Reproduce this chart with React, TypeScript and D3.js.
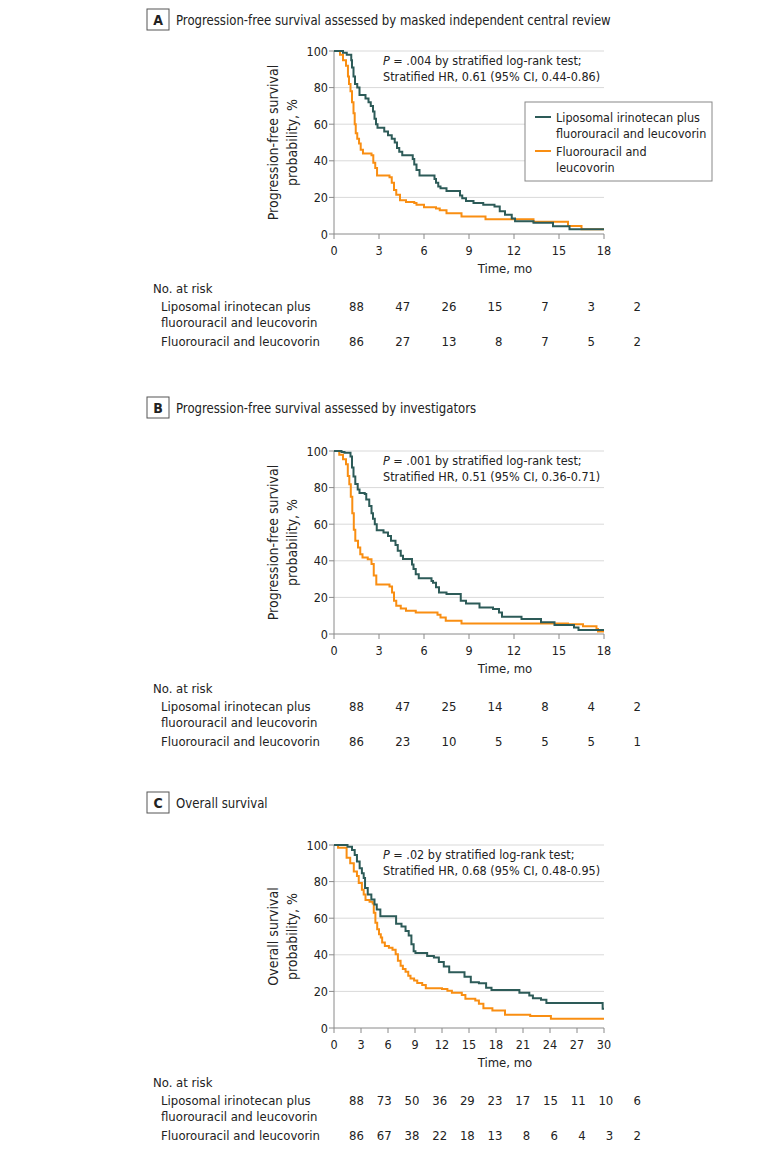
import * as d3 from "d3";
import React from "react";

const FONT = "'Liberation Sans Narrow', 'DejaVu Sans Condensed', 'Roboto Condensed', Roboto, sans-serif";
const TEAL = "#2d5b58";
const ORANGE = "#f98e12";
const GRID = "#d9d9d9";
const AXIS = "#8a8a8a";
const INK = "#222";

type Pt = [number, number];

// Panel A: PFS by masked independent central review
const pfsCentralLipo: Pt[] = [
  [0, 100], [0.6, 99], [0.85, 98], [1.15, 95], [1.2, 91], [1.3, 86], [1.4, 82], [1.55, 80], [1.7, 76],
  [2.1, 74], [2.3, 72], [2.45, 70], [2.6, 67], [2.7, 63], [2.8, 60], [2.9, 58], [3.35, 56], [3.6, 54],
  [3.85, 52], [4.05, 50], [4.2, 47], [4.35, 45], [4.55, 43], [5.25, 41], [5.35, 38], [5.5, 35], [5.7, 32],
  [6.7, 30], [6.8, 28], [6.95, 26], [7.1, 25], [7.5, 23.5], [8.4, 21], [8.55, 19.5], [8.8, 18], [9.3, 17],
  [9.95, 16], [10.7, 15], [11.05, 12.5], [11.4, 10.5], [11.85, 8.5], [12.07, 7], [13.3, 6.2], [14.6, 4.2],
  [15.7, 2.6], [18, 2.6],
];
const pfsCentralFu: Pt[] = [
  [0, 100], [0.4, 98], [0.6, 95], [0.8, 92], [0.93, 86], [1.0, 82], [1.1, 78], [1.2, 72], [1.3, 66],
  [1.38, 60], [1.45, 55], [1.55, 52], [1.67, 49.5], [1.78, 46], [1.93, 44], [2.5, 43], [2.62, 39],
  [2.75, 36], [2.87, 32], [3.7, 31], [3.85, 28], [4.0, 24], [4.15, 21.5], [4.4, 18.5], [4.8, 17.5],
  [5.35, 17], [5.5, 16], [6.0, 14.6], [6.8, 14], [7.05, 13], [7.5, 11.3], [8.5, 9.5], [10.1, 8],
  [13.3, 6.7], [15.6, 4.4], [16.5, 2.6], [18, 2.6],
];

// Panel B: PFS by investigators
const pfsInvLipo: Pt[] = [
  [0, 100], [0.5, 99.5], [0.7, 99], [1.1, 97], [1.2, 91], [1.3, 86], [1.42, 82], [1.58, 79], [1.7, 77],
  [2.05, 76.5], [2.15, 73.5], [2.35, 70], [2.5, 66], [2.6, 63], [2.72, 60], [2.85, 56.7], [3.3, 55.5],
  [3.6, 53.6], [3.8, 51], [4.1, 48.7], [4.25, 45.5], [4.45, 42.7], [4.6, 41], [5.2, 38], [5.3, 35.5],
  [5.45, 32.7], [5.65, 30.4], [6.5, 29], [6.6, 28], [6.8, 25.5], [7.0, 22.7], [7.5, 21.8], [8.45, 18.2],
  [8.8, 16.7], [9.7, 14.5], [10.6, 13.6], [11.0, 11.8], [11.2, 9.4], [12.5, 8.2], [13.8, 6.4], [14.7, 4.9],
  [16.0, 3.6], [16.3, 2.2], [18, 2.2],
];
const pfsInvFu: Pt[] = [
  [0, 100], [0.35, 98], [0.6, 95.5], [0.8, 92.7], [0.92, 86.4], [1.02, 81.8], [1.12, 75], [1.22, 66],
  [1.32, 57], [1.42, 51], [1.6, 47.3], [1.75, 43.6], [1.9, 41.8], [2.25, 40.9], [2.5, 38.2], [2.65, 32],
  [2.82, 27], [3.7, 26], [3.87, 22.7], [4.0, 18.2], [4.15, 15.5], [4.45, 14], [4.8, 12.7], [5.45, 11.8],
  [6.9, 10.5], [7.1, 9], [7.45, 7.3], [8.5, 5.8], [15.6, 5.3], [16.6, 4.3], [17.5, 2.7], [17.6, 1.4],
  [18, 1.4],
];

// Panel C: overall survival
const osLipo: Pt[] = [
  [0, 100], [1.5, 99], [2.0, 97.3], [2.3, 94.6], [2.55, 91], [2.85, 87.3], [3.1, 84.6], [3.3, 82],
  [3.45, 76.5], [3.75, 73], [4.15, 70.2], [4.5, 67.5], [4.75, 64.7], [5.15, 61], [6.9, 57], [7.5, 55.5],
  [7.95, 53], [8.3, 50.6], [8.6, 45.8], [8.85, 42], [9.05, 41], [10.35, 39.4], [11.1, 38.5], [11.65, 36],
  [12.2, 33.6], [12.8, 30.4], [14.5, 28], [15.2, 25], [16.1, 24.5], [16.9, 22], [17.5, 20.8], [20.6, 19.2],
  [21.7, 17.7], [22.1, 16.3], [23.0, 15.4], [23.6, 13.7], [29.85, 10.5], [30, 10.5],
];
const osFu: Pt[] = [
  [0, 100], [0.45, 98.5], [1.4, 93], [1.8, 90], [2.2, 85.5], [2.55, 83], [2.75, 79.2], [3.1, 75.6],
  [3.3, 73], [3.5, 70], [3.95, 69], [4.3, 68], [4.42, 63], [4.6, 57.5], [4.8, 54], [5.0, 51.2], [5.2, 49.4],
  [5.35, 46.7], [5.65, 44.8], [6.1, 43.9], [6.5, 42.7], [6.85, 40.3], [7.1, 36.7], [7.4, 34], [7.65, 32.2],
  [7.95, 30.7], [8.25, 28.6], [8.5, 27.1], [8.9, 25.9], [9.25, 24.6], [9.8, 23.5], [10.2, 21.7],
  [12.0, 21.3], [12.6, 20.3], [13.1, 19.2], [14.2, 18.1], [14.6, 16], [15.7, 15], [16.1, 13.2],
  [16.6, 10.8], [17.6, 9.6], [19.0, 7.2], [21.8, 6.5], [24.1, 5.0], [30, 5.0],
];

// Numbers at risk
const riskPfsCentralLipo = [88, 47, 26, 15, 7, 3, 2];
const riskPfsCentralFu = [86, 27, 13, 8, 7, 5, 2];
const riskPfsInvLipo = [88, 47, 25, 14, 8, 4, 2];
const riskPfsInvFu = [86, 23, 10, 5, 5, 5, 1];
const riskOsLipo = [88, 73, 50, 36, 29, 23, 17, 15, 11, 10, 6];
const riskOsFu = [86, 67, 38, 22, 18, 13, 8, 6, 4, 3, 2];

const armLabels = ["Liposomal irinotecan plus", "fluorouracil and leucovorin", "Fluorouracil and leucovorin"];

interface PanelProps {
  letter: string;
  title: string;
  headerY: number;
  top: number;
  yTitle: string[];
  xMax: number;
  lipo: Pt[];
  fu: Pt[];
  stats: [string, string];
  riskLipo: number[];
  riskFu: number[];
  legend?: boolean;
}

const X0 = 334;
const X1 = 604;
const PLOT_H = 183;

const Panel: React.FC<PanelProps> = (p) => {
  const bottom = p.top + PLOT_H;
  const x = d3.scaleLinear().domain([0, p.xMax]).range([X0, X1]);
  const y = d3.scaleLinear().domain([0, 100]).range([bottom, p.top]);
  const xTicks = d3.range(0, p.xMax + 1, 3);
  const yTicks = [0, 20, 40, 60, 80, 100];
  const line = d3
    .line<Pt>()
    .x((d) => x(d[0]))
    .y((d) => y(d[1]))
    .curve(d3.curveStepAfter);

  // at-risk columns are spread evenly, right-aligned
  const riskX = d3
    .scaleLinear()
    .domain([0, p.riskLipo.length - 1])
    .range([364, 641]);
  const riskTop = bottom + 54;

  return (
    <g fontFamily={FONT} fill={INK}>
      {/* header */}
      <rect x={147} y={p.headerY - 11} width={22} height={21} fill="none" stroke="#555" strokeWidth={1} />
      <text x={158} y={p.headerY} textAnchor="middle" dominantBaseline="central" fontSize={14} fontWeight="bold">
        {p.letter}
      </text>
      <text
        transform={`translate(176,${p.headerY}) scale(0.9,1)`}
        dominantBaseline="central"
        fontSize={14.5}
      >
        {p.title}
      </text>

      {/* grid */}
      {yTicks.filter((t) => t > 0).map((t) => (
        <line key={t} x1={X0} x2={X1} y1={y(t)} y2={y(t)} stroke={GRID} strokeWidth={1} />
      ))}

      {/* axes */}
      <line x1={X0} x2={X0} y1={p.top} y2={bottom} stroke={AXIS} />
      <line x1={X0} x2={X1} y1={bottom} y2={bottom} stroke={AXIS} />
      {yTicks.map((t) => (
        <g key={t}>
          <line x1={X0 - 5} x2={X0} y1={y(t)} y2={y(t)} stroke={AXIS} />
          <text x={X0 - 6} y={y(t)} textAnchor="end" dominantBaseline="central" fontSize={12.5}>
            {t}
          </text>
        </g>
      ))}
      {xTicks.map((t) => (
        <g key={t}>
          <line x1={x(t)} x2={x(t)} y1={bottom} y2={bottom + 5} stroke={AXIS} />
          <text x={x(t)} y={bottom + 16} textAnchor="middle" dominantBaseline="central" fontSize={12.5}>
            {t}
          </text>
        </g>
      ))}
      <text x={505} y={bottom + 34} textAnchor="middle" dominantBaseline="central" fontSize={13}>
        Time, mo
      </text>
      <g transform={`translate(${273},${(p.top + bottom) / 2}) rotate(-90)`}>
        {p.yTitle.map((s, i) => (
          <text key={i} x={0} y={i * 19} textAnchor="middle" dominantBaseline="central" fontSize={14}>
            {s}
          </text>
        ))}
      </g>

      {/* curves */}
      <path d={line(p.fu) ?? ""} fill="none" stroke={ORANGE} strokeWidth={2} />
      <path d={line(p.lipo) ?? ""} fill="none" stroke={TEAL} strokeWidth={2} />

      {/* stats */}
      <text x={383} y={p.top + 14} fontSize={12.5}>
        <tspan fontStyle="italic">P</tspan>
        {p.stats[0]}
      </text>
      <text x={383} y={p.top + 30} fontSize={12.5}>
        {p.stats[1]}
      </text>

      {p.legend && (
        <g fontSize={12.5}>
          <rect x={525} y={102} width={187} height={79} fill="#fff" stroke="#888" />
          <line x1={535} x2={551} y1={117} y2={117} stroke={TEAL} strokeWidth={2} />
          <text x={556} y={117} dominantBaseline="central">Liposomal irinotecan plus</text>
          <text x={556} y={133} dominantBaseline="central">fluorouracil and leucovorin</text>
          <line x1={535} x2={551} y1={151} y2={151} stroke={ORANGE} strokeWidth={2} />
          <text x={556} y={151} dominantBaseline="central">Fluorouracil and</text>
          <text x={556} y={167} dominantBaseline="central">leucovorin</text>
        </g>
      )}

      {/* number at risk */}
      <g fontSize={13}>
        <text x={153} y={riskTop} dominantBaseline="central">No. at risk</text>
        <text x={161} y={riskTop + 18} dominantBaseline="central">{armLabels[0]}</text>
        <text x={161} y={riskTop + 34} dominantBaseline="central">{armLabels[1]}</text>
        <text x={161} y={riskTop + 53} dominantBaseline="central">{armLabels[2]}</text>
        {p.riskLipo.map((v, i) => (
          <text key={`l${i}`} x={riskX(i)} y={riskTop + 18} textAnchor="end" dominantBaseline="central">{v}</text>
        ))}
        {p.riskFu.map((v, i) => (
          <text key={`f${i}`} x={riskX(i)} y={riskTop + 53} textAnchor="end" dominantBaseline="central">{v}</text>
        ))}
      </g>
    </g>
  );
};

export default function App() {
  return (
    <svg width={780} height={1153} style={{ display: "block", position: "absolute", left: 0, top: 0 }}>
      <rect width={780} height={1153} fill="#fff" />
      <Panel
        letter="A"
        title="Progression-free survival assessed by masked independent central review"
        headerY={20}
        top={51}
        yTitle={["Progression-free survival", "probability, %"]}
        xMax={18}
        lipo={pfsCentralLipo}
        fu={pfsCentralFu}
        stats={[" = .004 by stratified log-rank test;", "Stratified HR, 0.61 (95% CI, 0.44-0.86)"]}
        riskLipo={riskPfsCentralLipo}
        riskFu={riskPfsCentralFu}
        legend
      />
      <Panel
        letter="B"
        title="Progression-free survival assessed by investigators"
        headerY={408}
        top={451}
        yTitle={["Progression-free survival", "probability, %"]}
        xMax={18}
        lipo={pfsInvLipo}
        fu={pfsInvFu}
        stats={[" = .001 by stratified log-rank test;", "Stratified HR, 0.51 (95% CI, 0.36-0.71)"]}
        riskLipo={riskPfsInvLipo}
        riskFu={riskPfsInvFu}
      />
      <Panel
        letter="C"
        title="Overall survival"
        headerY={803}
        top={845}
        yTitle={["Overall survival", "probability, %"]}
        xMax={30}
        lipo={osLipo}
        fu={osFu}
        stats={[" = .02 by stratified log-rank test;", "Stratified HR, 0.68 (95% CI, 0.48-0.95)"]}
        riskLipo={riskOsLipo}
        riskFu={riskOsFu}
      />
    </svg>
  );
}
